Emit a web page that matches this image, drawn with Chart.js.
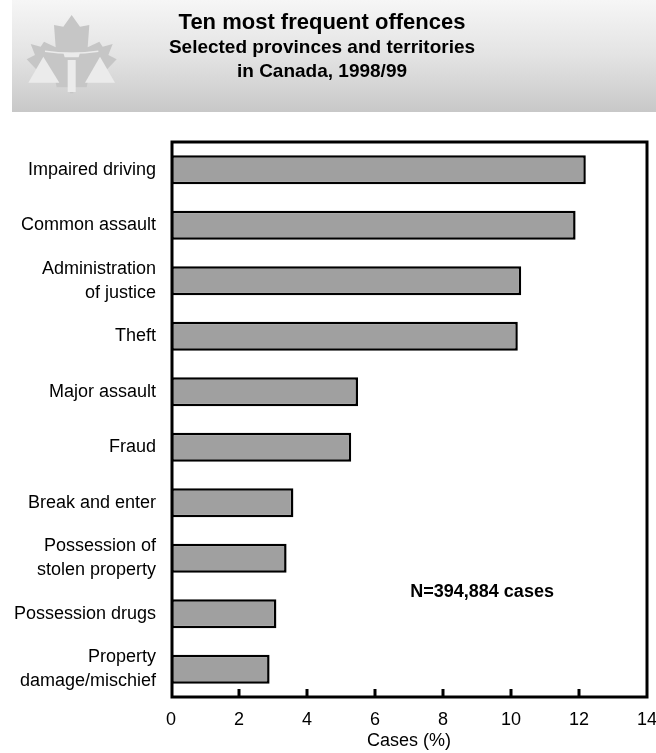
<!DOCTYPE html>
<html>
<head>
<meta charset="utf-8">
<script src="https://cdn.jsdelivr.net/npm/chart.js@4.4.1/dist/chart.umd.min.js"></script>
<style>
  html, body { margin: 0; padding: 0; background: #fff; }
  #wrap { width: 656px; height: 753px; }
</style>
</head>
<body>
<div id="wrap"><canvas id="chart" width="656" height="753"></canvas></div>
<script>
// Offence categories (multi-line labels as arrays)
const offences = [
  ["Impaired driving"],
  ["Common assault"],
  ["Administration", "of justice"],
  ["Theft"],
  ["Major assault"],
  ["Fraud"],
  ["Break and enter"],
  ["Possession of", "stolen property"],
  ["Possession drugs"],
  ["Property", "damage/mischief"]
];

// Share of all cases, percent
const casePercent = [12.2, 11.9, 10.3, 10.2, 5.5, 5.3, 3.6, 3.4, 3.1, 2.9];

// Horizontal axis ticks
const xTicks = [0, 2, 4, 6, 8, 10, 12, 14];

const titleLines = [
  "Ten most frequent offences",
  "Selected provinces and territories",
  "in Canada, 1998/99"
];
const axisTitle = "Cases (%)";
const noteText = "N=394,884 cases";

const FONT = "'Liberation Sans', Arial, Helvetica, sans-serif";

// Header band with emblem and title
function drawHeader(ctx) {
  ctx.save();
  ctx.fillStyle = "#ffffff";
  ctx.fillRect(0, 0, 656, 753);

  const g = ctx.createLinearGradient(0, 0, 0, 112);
  g.addColorStop(0, "#f6f6f6");
  g.addColorStop(0.5, "#e3e3e3");
  g.addColorStop(1, "#c8c8c8");
  ctx.fillStyle = g;
  ctx.fillRect(12, 0, 644, 112);

  // emblem: maple leaf with scales of justice
  const P = (x, y) => [x / 3 + 20, y / 3 + 10];
  const leaf = [
    [155, 15], [180, 50], [208, 45], [203, 112], [238, 95], [248, 110], [278, 102],
    [265, 135], [290, 148], [250, 190], [258, 215], [205, 208], [200, 232], [160, 232],
    [160, 250], [150, 250], [150, 232], [110, 232], [105, 208], [52, 215], [60, 190],
    [20, 148], [45, 135], [32, 102], [62, 110], [72, 95], [107, 112], [102, 45], [130, 50]
  ];
  ctx.fillStyle = "#c6c6c6";
  ctx.beginPath();
  leaf.forEach((p, i) => {
    const [x, y] = P(p[0], p[1]);
    if (i === 0) ctx.moveTo(x, y); else ctx.lineTo(x, y);
  });
  ctx.closePath();
  ctx.fill();

  ctx.fillStyle = "#ebebeb";
  ctx.strokeStyle = "#ebebeb";
  const poly = (pts) => {
    ctx.beginPath();
    pts.forEach((p, i) => {
      const [x, y] = P(p[0], p[1]);
      if (i === 0) ctx.moveTo(x, y); else ctx.lineTo(x, y);
    });
    ctx.closePath();
    ctx.fill();
  };
  poly([[70, 140], [25, 218], [118, 218]]);
  poly([[240, 140], [195, 218], [285, 218]]);
  poly([[143, 150], [167, 150], [167, 246], [143, 246]]);
  poly([[130, 128], [180, 128], [176, 142], [134, 142]]);
  ctx.lineWidth = 1.5;
  ctx.beginPath();
  const a = P(75, 124), b = P(155, 136), c = P(235, 124);
  ctx.moveTo(a[0], a[1]);
  ctx.quadraticCurveTo(b[0], b[1], c[0], c[1]);
  ctx.stroke();

  // title text
  const cx = 322;
  ctx.fillStyle = "#000";
  ctx.textAlign = "center";
  ctx.textBaseline = "middle";
  ctx.font = "bold 22px " + FONT;
  ctx.fillText(titleLines[0], cx, 23);
  ctx.font = "bold 19px " + FONT;
  ctx.fillText(titleLines[1], cx, 48);
  ctx.fillText(titleLines[2], cx, 72);
  ctx.restore();
}

const framePlugin = {
  id: "framePlugin",
  beforeDraw(chart) {
    drawHeader(chart.ctx);
  },
  afterDatasetsDraw(chart) {
    const ctx = chart.ctx;
    const area = chart.chartArea;
    const xs = chart.scales.x;
    const ys = chart.scales.y;
    ctx.save();
    ctx.strokeStyle = "#000";
    ctx.lineWidth = 3;
    ctx.strokeRect(area.left + 1, area.top, area.right - area.left - 1, area.bottom - area.top);
    // inward tick marks on the bottom axis
    xTicks.slice(1, -1).forEach(v => {
      const x = xs.getPixelForValue(v);
      ctx.beginPath();
      ctx.moveTo(x, area.bottom);
      ctx.lineTo(x, area.bottom - 8);
      ctx.stroke();
    });
    // sample size note
    ctx.fillStyle = "#000";
    ctx.font = "bold 18px " + FONT;
    ctx.textAlign = "center";
    ctx.textBaseline = "middle";
    ctx.fillText(noteText, xs.getPixelForValue(9.15), ys.getPixelForValue(7.6));
    ctx.restore();
  }
};

new Chart(document.getElementById("chart"), {
  type: "bar",
  data: {
    labels: offences,
    datasets: [{
      data: casePercent,
      backgroundColor: "#a0a0a0",
      borderColor: "#000000",
      borderWidth: 2.5,
      borderSkipped: false,
      categoryPercentage: 1.0,
      barPercentage: 0.52
    }]
  },
  options: {
    indexAxis: "y",
    responsive: false,
    animation: false,
    devicePixelRatio: 1,
    layout: { padding: { top: 142, right: 9, bottom: 0, left: 0 } },
    plugins: {
      legend: { display: false },
      tooltip: { enabled: false },
      title: { display: false }
    },
    scales: {
      x: {
        min: 0,
        max: 14,
        afterBuildTicks(scale) {
          scale.ticks = xTicks.map(v => ({ value: v }));
        },
        afterFit(scale) {
          scale.height = 56;
          scale.paddingLeft = 0;
          scale.paddingRight = 0;
        },
        grid: { display: false, drawTicks: false },
        border: { display: false },
        ticks: {
          color: "#000",
          padding: 12,
          maxRotation: 0,
          font: { family: FONT, size: 18 }
        },
        title: {
          display: true,
          text: axisTitle,
          color: "#000",
          font: { family: FONT, size: 18 },
          padding: { top: 0, bottom: 1 }
        }
      },
      y: {
        afterFit(scale) {
          scale.width = 171;
          scale.paddingTop = 0;
          scale.paddingBottom = 0;
        },
        grid: { display: false, drawTicks: false },
        border: { display: false },
        ticks: {
          color: "#000",
          padding: 15,
          font: { family: FONT, size: 18, lineHeight: 1.33 }
        }
      }
    }
  },
  plugins: [framePlugin]
});
</script>
</body>
</html>
